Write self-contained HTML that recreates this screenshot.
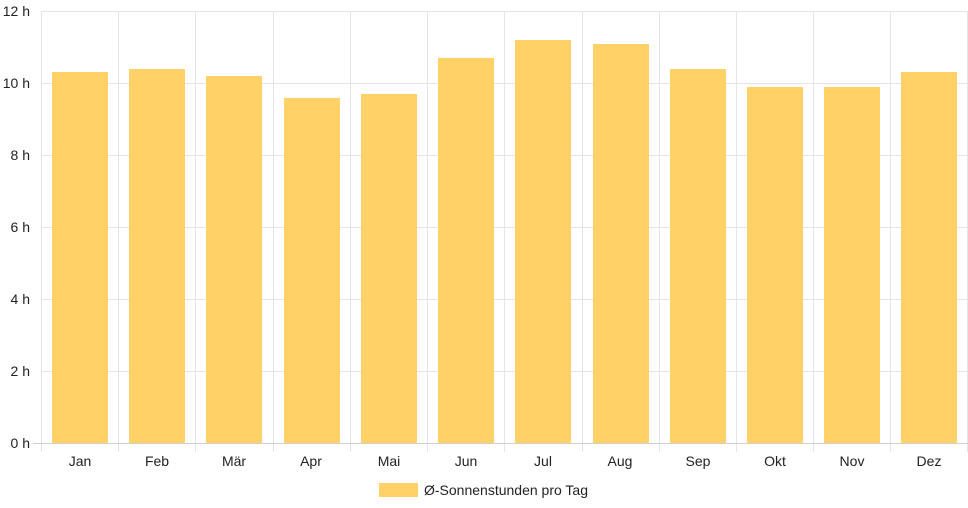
<!DOCTYPE html>
<html><head><meta charset="utf-8"><style>body{margin:0;background:#fff}svg{display:block}text{font-family:"Liberation Sans",Arial,sans-serif;font-size:14px;fill:#222}</style></head><body>
<svg width="968" height="508" viewBox="0 0 968 508">
<g stroke="#e5e5e5" stroke-width="1">
<line x1="41" y1="11.5" x2="968" y2="11.5"/><line x1="41" y1="83.5" x2="968" y2="83.5"/><line x1="41" y1="155.5" x2="968" y2="155.5"/><line x1="41" y1="227.5" x2="968" y2="227.5"/><line x1="41" y1="299.5" x2="968" y2="299.5"/><line x1="41" y1="371.5" x2="968" y2="371.5"/>
<line x1="41.5" y1="11" x2="41.5" y2="452"/><line x1="118.5" y1="11" x2="118.5" y2="452"/><line x1="195.5" y1="11" x2="195.5" y2="452"/><line x1="273.5" y1="11" x2="273.5" y2="452"/><line x1="350.5" y1="11" x2="350.5" y2="452"/><line x1="427.5" y1="11" x2="427.5" y2="452"/><line x1="504.5" y1="11" x2="504.5" y2="452"/><line x1="582.5" y1="11" x2="582.5" y2="452"/><line x1="659.5" y1="11" x2="659.5" y2="452"/><line x1="736.5" y1="11" x2="736.5" y2="452"/><line x1="813.5" y1="11" x2="813.5" y2="452"/><line x1="890.5" y1="11" x2="890.5" y2="452"/><line x1="967.5" y1="11" x2="967.5" y2="452"/>
</g>
<line x1="33" y1="443.5" x2="968" y2="443.5" stroke="#d0d0d0"/>
<g fill="#ffd166">
<rect x="52" y="72" width="56" height="371"/><rect x="129" y="69" width="56" height="374"/><rect x="206" y="76" width="56" height="367"/><rect x="284" y="98" width="56" height="345"/><rect x="361" y="94" width="56" height="349"/><rect x="438" y="58" width="56" height="385"/><rect x="515" y="40" width="56" height="403"/><rect x="593" y="44" width="56" height="399"/><rect x="670" y="69" width="56" height="374"/><rect x="747" y="87" width="56" height="356"/><rect x="824" y="87" width="56" height="356"/><rect x="901" y="72" width="56" height="371"/>
</g>
<g text-anchor="end">
<text x="30" y="16">12 h</text><text x="30" y="88">10 h</text><text x="30" y="160">8 h</text><text x="30" y="232">6 h</text><text x="30" y="304">4 h</text><text x="30" y="376">2 h</text><text x="30" y="448">0 h</text>
</g>
<g text-anchor="middle">
<text x="80" y="466">Jan</text><text x="157" y="466">Feb</text><text x="234" y="466">Mär</text><text x="311" y="466">Apr</text><text x="389" y="466">Mai</text><text x="466" y="466">Jun</text><text x="543" y="466">Jul</text><text x="620" y="466">Aug</text><text x="698" y="466">Sep</text><text x="775" y="466">Okt</text><text x="852" y="466">Nov</text><text x="929" y="466">Dez</text>
</g>
<rect x="379" y="483" width="39" height="14" fill="#ffd166"/>
<text x="424" y="495">Ø-Sonnenstunden pro Tag</text>
</svg>
</body></html>
